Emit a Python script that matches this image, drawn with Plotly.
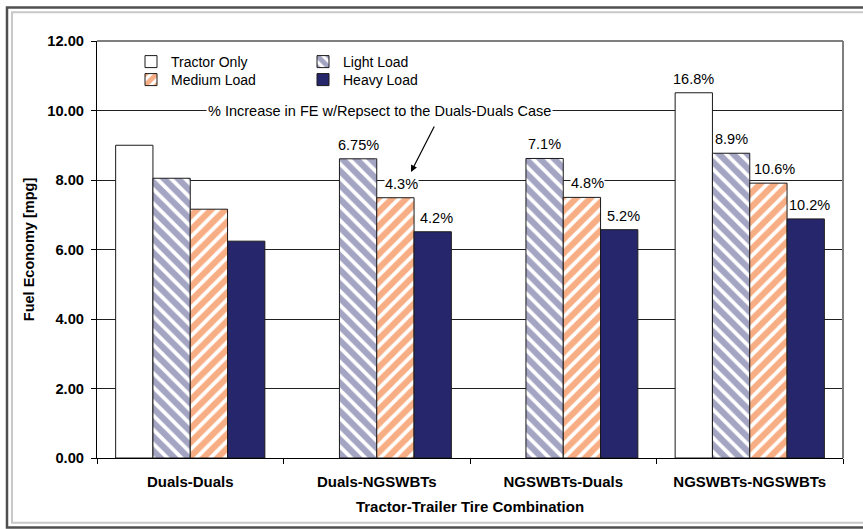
import plotly.graph_objects as go

# ---------------- data ----------------
categories = ["Duals-Duals", "Duals-NGSWBTs", "NGSWBTs-Duals", "NGSWBTs-NGSWBTs"]
series_names = ["Tractor Only", "Light Load", "Medium Load", "Heavy Load"]
tractor_only = [9.00, None, None, 10.51]
light_load = [8.05, 8.61, 8.62, 8.77]
medium_load = [7.16, 7.49, 7.50, 7.91]
heavy_load = [6.24, 6.51, 6.57, 6.88]
tractor_pct = ["", "", "", "16.8%"]
light_pct = ["", "6.75%", "7.1%", "8.9%"]
medium_pct = ["", "4.3%", "4.8%", "10.6%"]
heavy_pct = ["", "4.2%", "5.2%", "10.2%"]
y_ticks = [0, 2, 4, 6, 8, 10, 12]
note_text = "% Increase in FE w/Repsect to the Duals-Duals Case"

# ---------------- layout constants ----------------
W, H = 863, 529
ML, MR, MT, MB = 97, 20, 41, 71
PW = W - ML - MR
PH = H - MT - MB
FONT = "Liberation Sans, Arial, sans-serif"
BARGAP = 0.2


def px_x(px):
    return (px - ML) / PW


def px_y(py):
    return (H - MB - py) / PH


fig = go.Figure()

styles = [
    dict(color="white", pattern=None),
    dict(color="white", pattern=dict(shape="\\", fgcolor="#4a4a88", bgcolor="white", size=10, solidity=0.62, fillmode="overlay")),
    dict(color="white", pattern=dict(shape="/", fgcolor="#f25e0a", bgcolor="white", size=10, solidity=0.62, fillmode="overlay")),
    dict(color="#26266c", pattern=None),
]
values = [tractor_only, light_load, medium_load, heavy_load]
legends = ["legend", "legend2", "legend3", "legend4"]

for name, vals, st, lg in zip(series_names, values, styles, legends):
    marker = dict(color=st["color"], line=dict(color="#1a1a1a", width=1))
    if st["pattern"] is not None:
        marker["pattern"] = st["pattern"]
    fig.add_trace(go.Bar(
        x=categories, y=vals, name=name, marker=marker, legend=lg,
    ))

# percentage labels
cat_px = PW / len(categories)
slot_px = cat_px * (1 - BARGAP) / 4
pct_lists = [tractor_pct, light_pct, medium_pct, heavy_pct]
extra_shift = [0, 0, 6, 4]
annotations = []
for k, (vals, pcts) in enumerate(zip(values, pct_lists)):
    for cat, v, p in zip(categories, vals, pcts):
        if not p or v is None:
            continue
        annotations.append(dict(
            x=cat, y=v, xref="x", yref="y", text=p, showarrow=False,
            xshift=(k - 1.5) * slot_px + extra_shift[k], yshift=14,
            yanchor="middle", xanchor="center",
            bgcolor="white", borderpad=0,
            font=dict(family=FONT, size=14.5, color="black"),
        ))

# note text
annotations.append(dict(
    x=px_x(379), y=px_y(111.5), xref="paper", yref="paper", text=note_text,
    showarrow=False, xanchor="center", yanchor="middle", bgcolor="white", borderpad=1,
    font=dict(family=FONT, size=14.5, color="black"),
))
# arrow
annotations.append(dict(
    x=px_x(411), y=px_y(172), xref="paper", yref="paper", text="",
    showarrow=True, arrowhead=2, arrowsize=1.1, arrowwidth=1.2, arrowcolor="black",
    ax=24, ay=-47,
))

shapes = [
    # plot area border (top and right)
    dict(type="line", xref="paper", yref="paper", x0=0, x1=1, y0=1, y1=1, line=dict(color="#7f7f7f", width=2)),
    dict(type="line", xref="paper", yref="paper", x0=1, x1=1, y0=0, y1=1, line=dict(color="#7f7f7f", width=2)),
    # outer chart frame
    dict(type="rect", xref="paper", yref="paper", x0=px_x(7), x1=px_x(880), y0=px_y(527.5), y1=px_y(7.5),
         line=dict(color="#505050", width=2.5)),
    dict(type="rect", xref="paper", yref="paper", x0=px_x(12), x1=px_x(875), y0=px_y(522.8), y1=px_y(12.3),
         line=dict(color="#c8c8c8", width=2)),
]

leg_common = dict(xanchor="left", yanchor="middle", orientation="v",
                  bgcolor="rgba(0,0,0,0)", font=dict(family=FONT, size=14), tracegroupgap=0,
                  borderwidth=0)
row1_y, row2_y = 62, 80
col1_x, col2_x = 131, 303

fig.update_layout(
    width=W, height=H,
    margin=dict(l=ML, r=MR, t=MT, b=MB),
    paper_bgcolor="white", plot_bgcolor="white",
    barmode="group", bargap=BARGAP, bargroupgap=0,
    font=dict(family=FONT, color="black"),
    showlegend=True,
    legend=dict(x=px_x(col1_x), y=px_y(row1_y), **leg_common),
    legend2=dict(x=px_x(col2_x), y=px_y(row1_y), **leg_common),
    legend3=dict(x=px_x(col1_x), y=px_y(row2_y), **leg_common),
    legend4=dict(x=px_x(col2_x), y=px_y(row2_y), **leg_common),
    annotations=annotations,
    shapes=shapes,
)

fig.update_yaxes(
    range=[0, 12], tickvals=y_ticks, tickformat=".2f",
    showgrid=True, gridcolor="#202020", gridwidth=1,
    showline=True, linecolor="black", linewidth=1,
    ticks="outside", ticklen=5, tickcolor="black", ticklabelstandoff=4,
    tickfont=dict(family=FONT, size=14.7, color="black", weight="bold"),
    title=dict(text="<b>Fuel Economy [mpg]</b>", font=dict(family=FONT, size=14.5), standoff=9),
    zeroline=False, automargin=False,
)
fig.update_xaxes(
    showline=True, linecolor="black", linewidth=1,
    ticks="outside", ticklen=5, tickcolor="black", tickson="boundaries", ticklabelstandoff=10,
    tickfont=dict(family=FONT, size=15, color="black", weight="bold"),
    title=dict(text="<b>Tractor-Trailer Tire Combination</b>", font=dict(family=FONT, size=15), standoff=12),
    automargin=False,
)

fig.write_html("out.html")
